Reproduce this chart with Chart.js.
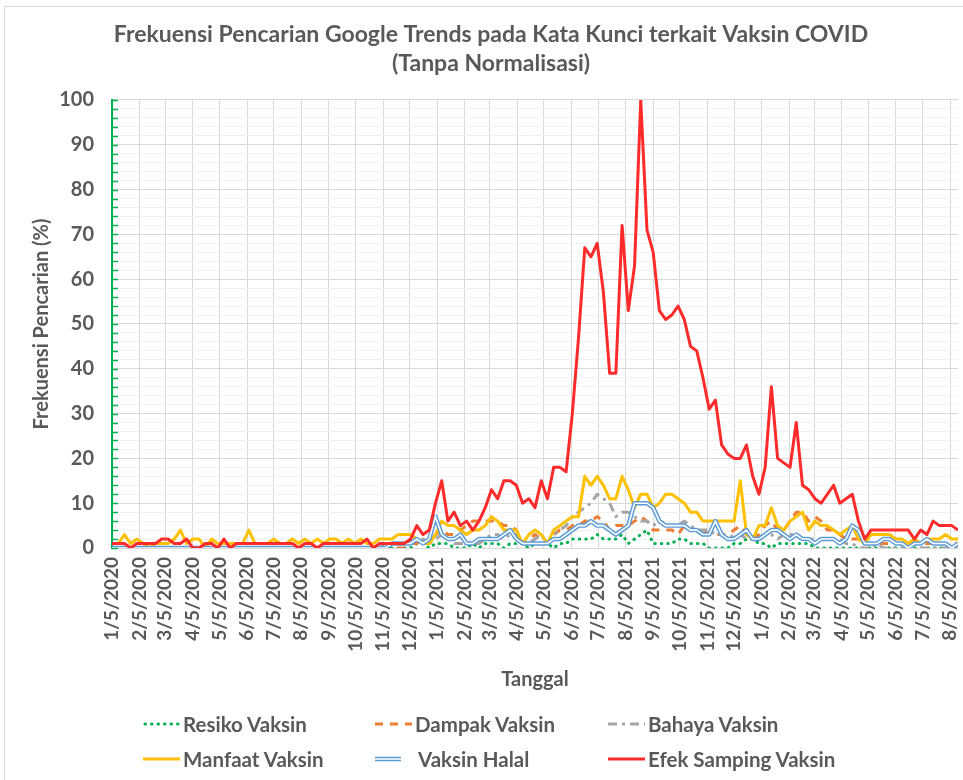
<!DOCTYPE html>
<html><head><meta charset="utf-8">
<script src="https://cdn.jsdelivr.net/npm/chart.js@4.4.0/dist/chart.umd.min.js"></script>
<style>
html,body{margin:0;padding:0;background:#fff;overflow:hidden;}
#wrap{position:relative;width:963px;height:780px;overflow:hidden;}
#frame{position:absolute;left:4px;top:6px;width:1000px;height:800px;border:1px solid #D9D9D9;box-sizing:border-box;}
#c{position:absolute;left:0;top:0;}
#legend{position:absolute;left:0;top:0;width:963px;height:780px;pointer-events:none;font-family:Lato,'Noto Sans',sans-serif;font-weight:700;color:#595959;font-size:20.5px;}
.item{position:absolute;display:flex;align-items:center;white-space:nowrap;height:26px;}
.item svg{display:block;}
</style></head>
<body><div id="wrap"><div id="frame"></div><canvas id="c" width="963" height="780"></canvas><div id="legend"></div></div>
<script>
// ---- data (weekly Google Trends values, first week 1/5/2020) ----
const firstWeek = '1/5/2020';
const weekCount = 137;
const tickLabels = ['1/5/2020','2/5/2020','3/5/2020','4/5/2020','5/5/2020','6/5/2020','7/5/2020','8/5/2020','9/5/2020','10/5/2020','11/5/2020','12/5/2020',
  '1/5/2021','2/5/2021','3/5/2021','4/5/2021','5/5/2021','6/5/2021','7/5/2021','8/5/2021','9/5/2021','10/5/2021','11/5/2021','12/5/2021',
  '1/5/2022','2/5/2022','3/5/2022','4/5/2022','5/5/2022','6/5/2022','7/5/2022','8/5/2022'];

const resiko = [0,0,0,0,0,0,0,0,0,0,0,0, 0,0,0,0,0,0,0,0,0,0,0,0, 0,0,0,0,0,0,0,0,0,0,0,0, 0,0,0,0,0,0,0,0,0,0,0,0,
  0,1,1,0,1,1,1,0,0,0,1,0,
  1,1,1,0,1,1,1,0,1,1,1,0,
  1,1,2,2,2,2,3,2,2,2,3,1,
  2,3,4,1,1,1,1,2,2,1,1,1,
  0,0,0,0,1,1,2,2,1,1,0,1,
  1,1,1,1,1,0,0,0,0,0,0,0,
  0,0,0,0,0,0,0,0,0,0,0,0,
  0,0,0,0,0];
const dampak = [0,0,0,0,0,0,0,0,0,0,0,0, 0,0,0,0,0,0,0,0,0,0,0,0, 0,0,0,0,0,0,0,0,0,0,0,0, 0,0,0,0,0,0,0,0,0,0,0,0,
  1,1,2,1,3,4,3,3,4,5,6,6,
  6,6,6,5,5,4,1,2,3,2,1,3,
  4,4,5,5,6,6,7,6,4,5,5,5,
  6,7,6,4,4,4,4,3,5,4,4,4,
  3,3,3,3,4,5,3,2,3,5,6,4,
  4,6,8,8,6,7,6,4,4,3,2,2,
  2,1,1,1,1,1,1,1,1,1,1,1,
  1,1,1,1,1];
const bahaya = [0,0,0,0,0,0,0,0,0,0,0,0, 0,0,0,0,0,0,0,0,0,0,0,0, 0,0,0,0,0,0,0,0,0,0,0,0, 0,0,0,0,0,0,0,0,1,1,1,1,
  1,1,2,1,2,3,2,1,1,1,1,1,
  2,3,3,2,3,3,1,1,2,3,1,3,
  4,5,7,8,9,10,12,11,10,7,8,8,
  7,6,6,5,6,5,5,5,6,5,4,4,
  4,3,3,2,3,3,2,2,2,3,3,2,
  3,3,3,2,2,2,2,2,2,2,1,1,
  0,0,0,1,0,0,0,0,0,1,0,0,
  0,0,0,0,0];
const manfaat = [1,1,3,1,2,1,0,1,1,1,2,4,
  1,2,2,0,2,1,1,1,1,1,4,1,
  1,1,2,1,1,2,1,2,1,2,1,2,
  2,1,2,1,2,1,1,2,2,2,3,3,
  3,2,1,1,3,6,5,5,4,3,4,4,
  5,7,6,4,4,4,1,3,4,3,1,4,
  5,6,7,7,16,14,16,14,11,11,16,13,
  9,12,12,9,10,12,12,11,10,8,8,6,
  6,6,6,6,6,15,3,2,5,5,9,5,
  4,6,7,8,4,6,5,5,4,3,4,5,
  2,1,3,3,3,3,2,2,1,2,1,2,
  2,2,3,2,2];
const halal = [0,0,0,0,0,0,0,0,0,0,0,0, 0,0,0,0,0,0,0,0,0,0,0,0, 0,0,0,0,0,0,0,0,0,0,0,0, 0,0,0,0,0,0,0,0,0,1,1,1,
  1,2,1,2,7,3,2,2,3,1,1,2,
  2,2,2,3,4,2,1,1,1,1,1,2,
  2,3,4,5,5,6,5,5,4,3,4,5,
  10,10,10,9,6,5,5,5,5,4,4,3,
  3,6,3,2,2,3,4,2,2,3,4,4,
  3,2,3,2,2,1,2,2,2,1,2,5,
  4,1,1,1,2,2,1,1,0,1,1,2,
  1,1,1,0,1];
const efek = [1,1,1,0,1,1,1,1,2,2,1,1,
  2,0,0,1,1,0,2,0,1,1,1,1,
  1,1,1,1,1,1,0,1,1,0,1,1,
  1,1,1,1,1,2,0,1,1,1,1,1,
  2,5,3,4,10,15,6,8,5,6,4,6,
  9,13,11,15,15,14,10,11,9,15,11,18,
  18,17,30,47,67,65,68,57,39,39,72,53,
  63,100,71,66,53,51,52,54,51,45,44,38,
  31,33,23,21,20,20,23,16,12,18,36,20,
  19,18,28,14,13,11,10,12,14,10,11,12,
  6,2,4,4,4,4,4,4,4,2,4,3,
  6,5,5,5,4];

const seriesNames = ['Resiko Vaksin','Dampak Vaksin','Bahaya Vaksin','Manfaat Vaksin','Vaksin Halal','Efek Samping Vaksin'];
const chartTitle = ['Frekuensi Pencarian Google Trends pada Kata Kunci terkait Vaksin COVID','(Tanpa Normalisasi)'];

// ---- helpers ----
const DAY = 86400000;
function parseMDY(s){const p=s.split('/').map(Number);return Date.UTC(p[2],p[0]-1,p[1]);}
const t0 = parseMDY(firstWeek);
const weekDays = Array.from({length: weekCount}, (_, i) => i * 7);
const tickDays = tickLabels.map(s => Math.round((parseMDY(s) - t0) / DAY));
const pts = arr => arr.map((v, i) => ({x: weekDays[i], y: v}));

const FONT = 'Lato';
const GREY = '#595959';

const styles = [
  {color:'#00B050', width:3, dash:[0.5,6], cap:'round', order:6},
  {color:'#ED7D31', width:3, dash:[8,7], cap:'butt', order:5},
  {color:'#A5A5A5', width:3, dash:[9,5,3,5], cap:'butt', order:4},
  {color:'#FFC000', width:3, dash:[], cap:'butt', order:3},
  {color:'#5B9BD5', width:4.5, dash:[], cap:'butt', order:2, inner:'#FFFFFF'},
  {color:'#FF2B2B', width:3, dash:[], cap:'butt', order:0}
];
const values = [resiko, dampak, bahaya, manfaat, halal, efek];

const datasets = [];
values.forEach((v, k) => {
  const s = styles[k];
  datasets.push({label: seriesNames[k], data: pts(v), borderColor: s.color, backgroundColor: s.color,
    borderWidth: s.width, borderDash: s.dash, borderCapStyle: s.cap, borderJoinStyle:'round',
    pointRadius: 0, tension: 0, fill: false, order: s.order});
  if (s.inner) {
    datasets.push({label: '', data: pts(v), borderColor: s.inner, borderWidth: 1.6, pointRadius: 0,
      tension: 0, fill: false, order: s.order - 1, helper: true});
  }
});

const yTickPlugin = {
  id: 'yMinorTicks',
  afterDraw(chart) {
    const y = chart.scales.y, ctx = chart.ctx, left = chart.chartArea.left;
    ctx.save();
    ctx.strokeStyle = '#00B050'; ctx.lineWidth = 1.5;
    for (let v = 0; v <= 100; v += 2) {
      const py = Math.round(y.getPixelForValue(v)) + 0.5;
      ctx.beginPath(); ctx.moveTo(left, py); ctx.lineTo(left + 6, py); ctx.stroke();
    }
    ctx.restore();
  }
};

const chart = new Chart(document.getElementById('c'), {
  type: 'line',
  data: {datasets},
  plugins: [yTickPlugin],
  options: {
    responsive: false, animation: false,
    layout: {padding: {left: 24, right: 5, top: 6, bottom: 82}},
    plugins: {
      legend: {display: false},
      tooltip: {enabled: false},
      title: {display: true, text: chartTitle, color: GREY,
        font: {family: FONT, weight: 'bold', size: 23, lineHeight: 1.26}, padding: {top: 14.5, bottom: 21.5}}
    },
    scales: {
      x: {
        type: 'linear', min: 0, max: weekDays[weekDays.length - 1],
        afterBuildTicks: s => { s.ticks = tickDays.map(v => ({value: v})); },
        afterFit: s => { s.height = 150; s.paddingRight = 0; s.paddingLeft = 0; },
        ticks: {autoSkip: false, maxRotation: 90, minRotation: 90, padding: 9, color: GREY,
          font: {family: FONT, weight: 'bold', size: 19},
          callback: (v, i) => tickLabels[i]},
        grid: {color: c => (c.tick && c.tick.value === 0) ? 'rgba(0,0,0,0)' : '#D9D9D9', drawTicks: false},
        border: {color: '#D9D9D9', width: 1},
        title: {display: true, text: 'Tanggal', color: GREY, font: {family: FONT, weight: 'bold', size: 20}, padding: {top: 4, bottom: 6}}
      },
      y: {
        min: 0, max: 100,
        afterFit: s => { s.width = 88; },
        ticks: {stepSize: 2, autoSkip: false, padding: 18, color: GREY,
          font: {family: FONT, weight: 'bold', size: 20},
          callback: v => (v % 10 === 0 ? String(v) : '')},
        grid: {color: c => (c.tick && c.tick.value % 10 === 0) ? '#D9D9D9' : '#F2F2F2', drawTicks: false},
        border: {color: '#00B050', width: 2},
        title: {display: true, text: 'Frekuensi Pencarian (%)', color: GREY, font: {family: FONT, weight: 'bold', size: 20}, padding: {top: 6}}
      }
    }
  }
});

// ---- HTML legend built from the datasets (3 columns x 2 rows) ----
const legendCols = [143, 375, 608];
const legendRows = [724, 759];
const legendEl = document.getElementById('legend');
chart.data.datasets.filter(d => !d.helper).forEach((d, i) => {
  const s = styles[i];
  const col = i % 3, row = Math.floor(i / 3);
  const item = document.createElement('div');
  item.className = 'item';
  item.style.left = legendCols[col] + 'px';
  item.style.top = (legendRows[row] - 13) + 'px';
  const w = s.inner ? 26 : 37;
  const ns = 'http://www.w3.org/2000/svg';
  const svg = document.createElementNS(ns, 'svg');
  svg.setAttribute('width', w); svg.setAttribute('height', 10);
  const mk = (color, width) => {
    const l = document.createElementNS(ns, 'line');
    l.setAttribute('x1', s.cap === 'round' ? 2 : 0); l.setAttribute('x2', w); l.setAttribute('y1', 5); l.setAttribute('y2', 5);
    l.setAttribute('stroke', color); l.setAttribute('stroke-width', width);
    if (s.dash.length) l.setAttribute('stroke-dasharray', s.dash.join(' '));
    l.setAttribute('stroke-linecap', s.cap);
    svg.appendChild(l);
  };
  mk(s.color, s.width);
  if (s.inner) mk(s.inner, 1.6);
  item.appendChild(svg);
  const t = document.createElement('span');
  t.textContent = d.label;
  t.style.marginLeft = (s.inner ? 17 : 3) + 'px';
  item.appendChild(t);
  legendEl.appendChild(item);
});
</script></body></html>
